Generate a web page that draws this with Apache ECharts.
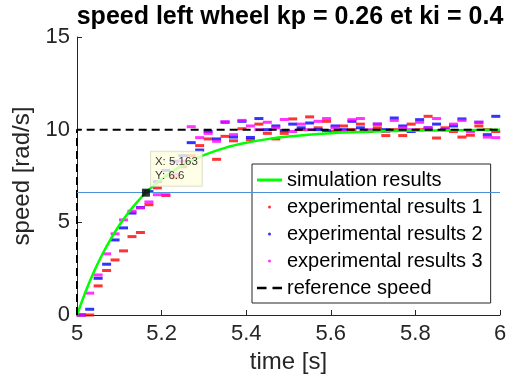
<!DOCTYPE html>
<html>
<head>
<meta charset="utf-8">
<script src="https://cdn.jsdelivr.net/npm/echarts@6/dist/echarts.min.js"></script>
<style>
html, body { margin: 0; padding: 0; background: #fff; }
#main { width: 526px; height: 383px; }
</style>
</head>
<body>
<div id="main"></div>
<script>
// simulation (first order response)
var simT = [5, 5.02, 5.04, 5.06, 5.08, 5.1, 5.12, 5.14, 5.163, 5.18, 5.2, 5.25, 5.3, 5.35, 5.4, 5.45, 5.5, 5.6, 5.7, 5.8, 5.9, 6];
var simV = [0, 1.24, 2.33, 3.28, 4.11, 4.84, 5.48, 6.04, 6.6, 6.96, 7.34, 8.09, 8.63, 9.02, 9.29, 9.49, 9.63, 9.81, 9.9, 9.95, 9.97, 9.99];

// experimental samples
var tExp = [5.01, 5.03, 5.05, 5.07, 5.09, 5.11, 5.13, 5.15, 5.17, 5.19,
            5.21, 5.23, 5.25, 5.27, 5.29, 5.31, 5.33, 5.35, 5.37, 5.39,
            5.41, 5.43, 5.45, 5.47, 5.49, 5.51, 5.53, 5.55, 5.57, 5.59,
            5.61, 5.63, 5.65, 5.67, 5.69, 5.71, 5.73, 5.75, 5.77, 5.79,
            5.81, 5.83, 5.85, 5.87, 5.89, 5.91, 5.93, 5.95, 5.97, 5.99];
var exp1 = [0, 0, 1.57, 2.4, 2.97, 3.46, 4.23, 4.45, 5.95, 6.86,
            6.45, 7.4, 8.0, 8.6, 9.14, 9.5, 8.4, 9.64, 9.4, 10.05,
            9.46, 10.3, 9.8, 9.5, 9.8, 10.58, 10.0, 10.69, 10.1, 10.45,
            9.9, 10.2, 10.0, 10.3, 9.9, 10.1, 9.68, 10.0, 9.68, 10.3,
            10.0, 10.72, 9.55, 10.1, 9.9, 9.6, 9.7, 10.2, 10.0, 9.9];
var exp2 = [0, 0.31, 1.98, 2.74, 4.05, 4.7, 5.5, 5.8, 6.66, 7.2,
            7.8, 8.3, 8.6, 9.3, 8.9, 9.9, 9.5, 10.4, 9.6, 10.45,
            9.58, 10.6, 10.0, 10.2, 9.95, 10.3, 10.1, 10.36, 10.0, 9.95,
            10.2, 10.0, 10.45, 10.1, 9.95, 10.3, 10.0, 10.63, 10.2, 9.9,
            10.54, 10.1, 10.3, 10.0, 10.2, 10.58, 9.95, 10.4, 9.73, 10.72];
var exp3 = [0, 1.18, 2.16, 3.3, 4.38, 5.13, 5.6, 5.78, 6.1, 6.49,
            6.49, 7.6, 8.3, 10.16, 9.57, 9.8, 9.37, 10.43, 9.73, 10.5,
            10.2, 10.0, 10.4, 10.1, 10.55, 9.9, 10.3, 10.0, 10.45, 10.6,
            10.1, 9.9, 10.54, 10.6, 10.0, 10.3, 9.9, 10.5, 10.1, 10.0,
            10.4, 10.1, 10.6, 10.0, 10.3, 10.5, 9.9, 10.4, 9.6, 9.57];

// reference step
var refT = [5, 5, 6];
var refV = [0, 10, 10];

// data tip
var tipX = 5.163;
var tipY = 6.6;

var FONT = '"Liberation Sans", Arial, Helvetica, sans-serif';
var AX = '#262626';

function pairs(xs, ys) {
    return xs.map(function (x, i) { return [x, ys[i]]; });
}

function expSeries(name, color, vals) {
    return {
        name: name,
        type: 'scatter',
        data: pairs(tExp, vals),
        symbol: 'rect',
        symbolSize: [9, 3],
        itemStyle: {color: color},
        silent: true
    };
}

var chart = echarts.init(document.getElementById('main'));
chart.setOption({
    animation: false,
    backgroundColor: '#fff',
    title: {
        text: 'speed left wheel kp = 0.26 et ki = 0.4',
        left: 290,
        top: 5,
        padding: 0,
        textAlign: 'center',
        textStyle: {fontFamily: FONT, fontSize: 25, fontWeight: 'bold', color: '#000'}
    },
    grid: {left: 77, right: 26, top: 37, bottom: 68},
    legend: {
        orient: 'vertical',
        left: 252,
        top: 164,
        backgroundColor: '#fff',
        borderColor: AX,
        borderWidth: 1,
        padding: [6, 8, 5, 5],
        itemWidth: 25,
        itemHeight: 3,
        itemGap: 7,
        selectedMode: false,
        textStyle: {fontFamily: FONT, fontSize: 20, lineHeight: 20, color: '#000'},
        data: [
            {name: 'simulation results', icon: 'rect'},
            {name: 'experimental results 1', icon: 'circle'},
            {name: 'experimental results 2', icon: 'circle'},
            {name: 'experimental results 3', icon: 'circle'},
            {name: 'reference speed', icon: 'path://M0,0h8v2h-8z M13,0h8v2h-8z'}
        ]
    },
    xAxis: {
        type: 'value',
        min: 5,
        max: 6,
        interval: 0.2,
        name: 'time [s]',
        nameLocation: 'middle',
        nameGap: 34,
        nameTextStyle: {fontFamily: FONT, fontSize: 24, color: AX},
        axisLine: {lineStyle: {color: AX, width: 1}},
        axisTick: {inside: true, length: 5, lineStyle: {color: AX}},
        axisLabel: {fontFamily: FONT, fontSize: 22, color: AX, margin: 8},
        splitLine: {show: false}
    },
    yAxis: {
        type: 'value',
        min: 0,
        max: 15,
        interval: 5,
        name: 'speed [rad/s]',
        nameLocation: 'middle',
        nameGap: 36,
        nameTextStyle: {fontFamily: FONT, fontSize: 24, color: AX},
        axisLine: {show: true, lineStyle: {color: AX, width: 1}},
        axisTick: {show: true, inside: true, length: 5, lineStyle: {color: AX}},
        axisLabel: {fontFamily: FONT, fontSize: 22, color: AX, margin: 7},
        splitLine: {show: false}
    },
    series: [
        {
            name: 'simulation results',
            type: 'line',
            data: pairs(simT, simV),
            symbol: 'none',
            smooth: 0.2,
            lineStyle: {color: '#00ff00', width: 2.5},
            itemStyle: {color: '#00ff00'},
            markLine: {
                silent: true,
                symbol: 'none',
                label: {show: false},
                lineStyle: {color: '#4d92d8', width: 1, type: 'solid'},
                data: [{yAxis: tipY}]
            }
        },
        expSeries('experimental results 1', '#ff0000', exp1),
        expSeries('experimental results 2', '#0000ff', exp2),
        expSeries('experimental results 3', '#ff00ff', exp3),
        {
            name: 'reference speed',
            type: 'line',
            data: pairs(refT, refV),
            symbol: 'none',
            clip: false,
            lineStyle: {color: '#000', width: 2, type: [8, 5]},
            itemStyle: {color: '#000'}
        },
        {
            name: 'datatip',
            type: 'scatter',
            data: [[tipX, tipY]],
            symbol: 'rect',
            symbolSize: 8,
            z: 10,
            itemStyle: {color: '#000'},
            label: {
                show: true,
                position: [9, -37],
                formatter: 'X: ' + tipX + '\nY: ' + tipY,
                backgroundColor: '#ffffe1',
                borderColor: '#d9d9c4',
                borderWidth: 1,
                padding: [3, 4],
                fontFamily: FONT,
                fontSize: 11.5,
                lineHeight: 14,
                color: '#000'
            }
        }
    ]
});
</script>
</body>
</html>
